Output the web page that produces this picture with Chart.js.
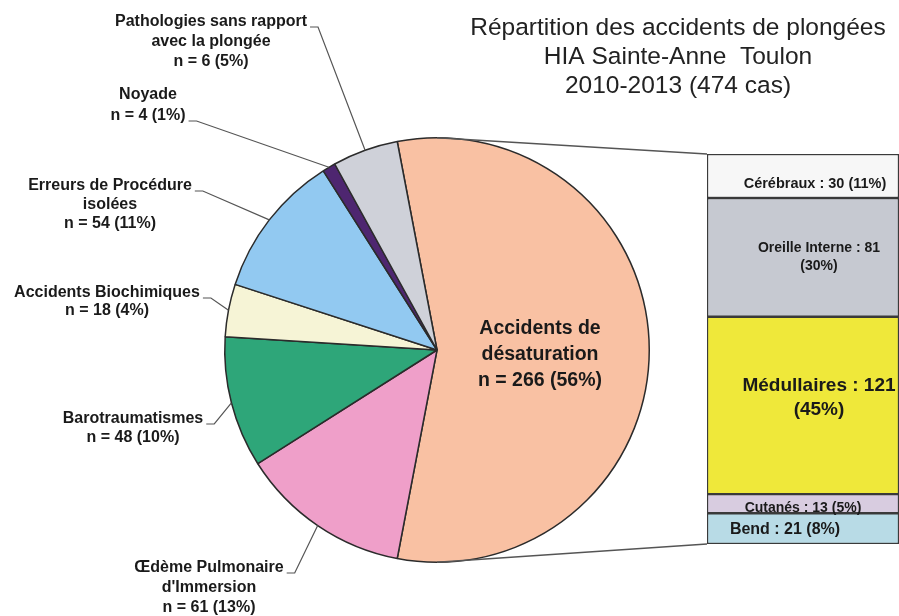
<!DOCTYPE html>
<html>
<head>
<meta charset="utf-8">
<script src="https://cdn.jsdelivr.net/npm/chart.js"></script>
<style>
html, body { margin: 0; padding: 0; background: #fff; }
#wrap { position: relative; width: 899px; height: 616px; overflow: hidden; }
#pie { position: absolute; left: 0; top: 0; }
#bar { position: absolute; left: 704px; top: 150px; }
</style>
</head>
<body>
<div id="wrap">
<canvas id="pie" width="899" height="616"></canvas>
<canvas id="bar" width="195" height="398"></canvas>
</div>
<script>
// data
var pieLines = [['Accidents de', 'désaturation'], ['Œdème Pulmonaire', "d'Immersion"], ['Barotraumatismes'],
    ['Accidents Biochimiques'], ['Erreurs de Procédure', 'isolées'], ['Noyade'], ['Pathologies sans rapport', 'avec la plongée']];
var pieCounts = [266, 61, 48, 18, 54, 4, 6];
var piePercents = [56, 13, 10, 4, 11, 1, 5];

var barNames = ['Cérébraux', 'Oreille Interne', 'Médullaires', 'Cutanés', 'Bend'];
var barCounts = [30, 81, 121, 13, 21];
var barPercents = [11, 30, 45, 5, 8];

var titleLines = ['Répartition des accidents de plongées', 'HIA Sainte-Anne  Toulon', '2010-2013 (474 cas)'];

var pieColors = ['#f9c1a3', '#ef9fc9', '#2ea679', '#f6f4d6', '#92c9f1', '#4e2670', '#cfd1d9'];
var barColors = ['#f7f7f7', '#c6c9d1', '#efe83a', '#d8cce0', '#b8dbe6'];

// label layout
var pieLabelPos = [
    {x: 540, y: 329, lh: 26, size: 19.5},
    {x: 209, y: 568, lh: 20, size: 16, lead: 0},
    {x: 133, y: 419, lh: 19, size: 16, lead: 0},
    {x: 107, y: 293, lh: 18, size: 16, lead: 0},
    {x: 110, y: 186, lh: 19, size: 16, lead: 0},
    {x: 148, y: 95, lh: 21, size: 16, lead: 1},
    {x: 211, y: 22, lh: 20, size: 16, lead: 0}
];
var barLabelPos = [
    {dx: 12, dy: 8, size: 14.5, split: false},
    {dx: 16, dy: 0, size: 14, split: true},
    {dx: 16, dy: -8, size: 19, split: true},
    {dx: 0, dy: 4, size: 14, split: false},
    {dx: -18, dy: 1, size: 16, split: false}
];

var font = 'Arial, "Liberation Sans", sans-serif';

var barLabelPlugin = {
    id: 'barLabels',
    afterDatasetsDraw: function (chart) {
        var ctx = chart.ctx;
        ctx.save();
        ctx.fillStyle = '#1a1a1a';
        ctx.textAlign = 'center';
        ctx.textBaseline = 'middle';
        chart.data.datasets.forEach(function (ds, i) {
            var el = chart.getDatasetMeta(i).data[0];
            var p = barLabelPos[i];
            var cy = (el.y + el.base) / 2 + p.dy;
            var cx = el.x + p.dx;
            ctx.font = 'bold ' + p.size + 'px ' + font;
            if (p.split) {
                var lh = p.size * 1.25;
                ctx.fillText(barNames[i] + ' : ' + barCounts[i], cx, cy - lh / 2);
                ctx.fillText('(' + barPercents[i] + '%)', cx, cy + lh / 2);
            } else {
                ctx.fillText(barNames[i] + ' : ' + barCounts[i] + ' (' + barPercents[i] + '%)', cx, cy);
            }
        });
        ctx.restore();
    }
};

var barChart = new Chart(document.getElementById('bar').getContext('2d'), {
    type: 'bar',
    data: {
        labels: ['Accidents de désaturation'],
        datasets: barNames.map(function (name, i) {
            return {
                label: name,
                data: [barCounts[i]],
                backgroundColor: barColors[i],
                borderColor: '#3a3a3a',
                borderWidth: 1.5,
                borderSkipped: false,
                categoryPercentage: 1,
                barPercentage: 1
            };
        })
    },
    options: {
        responsive: false,
        animation: false,
        devicePixelRatio: 1,
        layout: {padding: {left: 3, right: 0, top: 4, bottom: 4}},
        scales: {
            x: {stacked: true, display: false},
            y: {stacked: true, display: false, reverse: true, min: 0,
                max: barCounts.reduce(function (a, b) { return a + b; }, 0)}
        },
        plugins: {legend: {display: false}, tooltip: {enabled: false}}
    },
    plugins: [barLabelPlugin]
});

var pieLabelPlugin = {
    id: 'pieLabels',
    afterDatasetsDraw: function (chart) {
        var ctx = chart.ctx;
        var arcs = chart.getDatasetMeta(0).data;
        var a0 = arcs[0];
        var r = a0.outerRadius;
        ctx.save();

        // connectors to the bar
        var barCanvas = barChart.canvas;
        var ca = barChart.chartArea;
        var bx = barCanvas.offsetLeft + ca.left;
        var by0 = barCanvas.offsetTop + ca.top;
        var by1 = barCanvas.offsetTop + ca.bottom;
        ctx.strokeStyle = '#555';
        ctx.lineWidth = 1.4;
        ctx.beginPath();
        ctx.moveTo(a0.x, a0.y - r);
        ctx.lineTo(bx, by0);
        ctx.moveTo(a0.x, a0.y + r);
        ctx.lineTo(bx, by1);
        ctx.stroke();

        // title
        ctx.fillStyle = '#222';
        ctx.textAlign = 'center';
        ctx.textBaseline = 'middle';
        ctx.font = '24.5px ' + font;
        titleLines.forEach(function (t, i) {
            ctx.fillText(t, 678, 28 + i * 29);
        });

        // slice labels
        ctx.fillStyle = '#1a1a1a';
        arcs.forEach(function (arc, i) {
            var p = pieLabelPos[i];
            var lines = pieLines[i].concat(['n = ' + pieCounts[i] + ' (' + piePercents[i] + '%)']);
            ctx.font = 'bold ' + p.size + 'px ' + font;
            lines.forEach(function (t, j) {
                ctx.fillText(t, p.x, p.y + j * p.lh);
            });
            if (p.lead === undefined) return;
            var w = ctx.measureText(lines[p.lead]).width;
            var sx = p.x + w / 2 + 3;
            var sy = p.y + p.lead * p.lh + 5;
            var mid = (arc.startAngle + arc.endAngle) / 2;
            var ex = arc.x + Math.cos(mid) * arc.outerRadius;
            var ey = arc.y + Math.sin(mid) * arc.outerRadius;
            ctx.strokeStyle = '#555';
            ctx.lineWidth = 1.2;
            ctx.beginPath();
            ctx.moveTo(sx, sy);
            ctx.lineTo(sx + 8, sy);
            ctx.lineTo(ex, ey);
            ctx.stroke();
        });
        ctx.restore();
    }
};

var pieChart = new Chart(document.getElementById('pie').getContext('2d'), {
    type: 'pie',
    data: {
        labels: pieLines.map(function (l) { return l.join(' '); }),
        datasets: [{
            data: piePercents,
            backgroundColor: pieColors,
            borderColor: '#2b2b2b',
            borderWidth: 1.5,
            hoverOffset: 0
        }]
    },
    options: {
        responsive: false,
        animation: false,
        devicePixelRatio: 1,
        rotation: -10.8,
        layout: {padding: {left: 224, right: 249, top: 137, bottom: 53}},
        plugins: {legend: {display: false}, tooltip: {enabled: false}}
    },
    plugins: [pieLabelPlugin]
});
</script>
</body>
</html>
